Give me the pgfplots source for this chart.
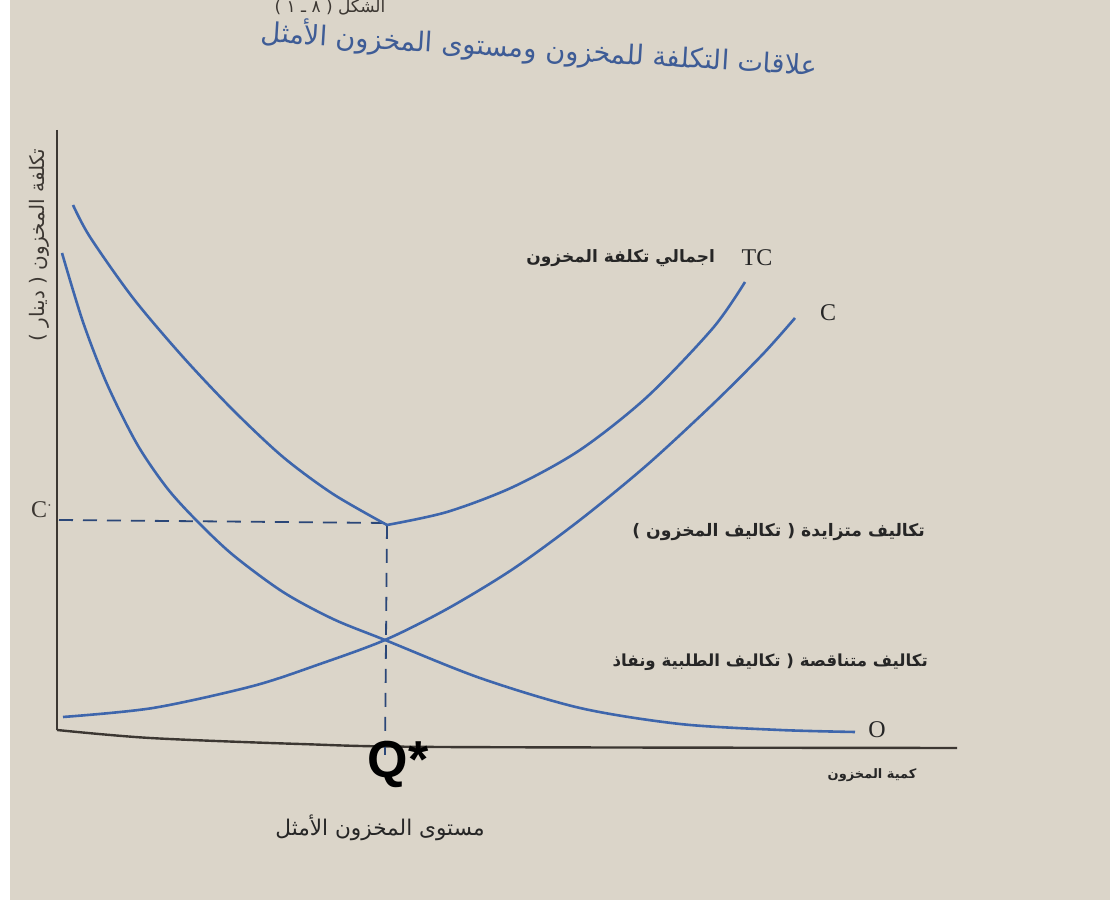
\documentclass[border=0pt]{standalone}
\usepackage{pgfplots}
\pgfplotsset{compat=1.18}
\usepackage{fontspec}
\setmainfont{Liberation Serif}
\newfontfamily\arabicfont[Script=Arabic]{DejaVu Sans}
\newfontfamily\qfont{Liberation Sans}
\TeXXeTstate=1
\definecolor{paper}{RGB}{219,213,201}
\definecolor{curve}{RGB}{62,102,172}
\definecolor{ink}{RGB}{60,55,50}
\definecolor{titleblue}{RGB}{62,92,150}
\begin{document}
\begin{tikzpicture}
% page: 1 px of the photo = 0.5pt, axis origin at photo pixel (57,742)
\path[use as bounding box, fill=white] (-28.5pt,-83.5pt) rectangle (526.5pt,371pt);
\fill[paper] (-23.5pt,-79pt) rectangle (526.5pt,371pt);
\begin{axis}[
  scale only axis,
  width=450pt, height=306pt,
  xmin=0, xmax=900, ymin=0, ymax=612,
  axis lines=none,
  clip=false,
  ticks=none,
]
  % axes as drawn in the book
  \addplot[ink, line width=1.1pt] coordinates {(0,612) (0,12)};
  \addplot[ink, line width=1.2pt, smooth] coordinates {(0,12) (93,4) (243,-2) (383,-5) (900,-6)};
  % guide lines to the optimum
  \addplot[curve!70!black, dash pattern=on 7pt off 5pt, line width=0.9pt]
    coordinates {(2,222) (330,219)};
  \addplot[curve!70!black, dash pattern=on 7pt off 5pt, line width=0.9pt]
    coordinates {(330,217) (328,-15)};
  % TC: total cost
  \addplot[curve, line width=1.3pt, smooth] coordinates {
    (16,537) (33,505) (76,444) (126,385) (176,332) (226,285) (276,248) (330,217)};
  \addplot[curve, line width=1.3pt, smooth] coordinates {
    (330,217) (390,230) (456,255) (523,292) (590,345) (656,414) (688,460)};
  % O: ordering cost (decreasing)
  \addplot[curve, line width=1.3pt, smooth] coordinates {
    (5,489) (26,420) (50,358) (80,298) (110,254) (140,221) (176,187)
    (226,150) (276,123) (328,102) (423,64) (523,34) (623,18) (723,12) (798,10)};
  % C: holding cost (increasing)
  \addplot[curve, line width=1.3pt, smooth] coordinates {
    (6,25) (96,34) (196,56) (263,78) (328,102) (390,133) (456,173)
    (523,222) (590,277) (656,338) (706,388) (738,424)};

  % texts
  \node[font=\arabicfont\fontsize{8.5}{10}\selectfont, text=ink] at (axis cs:273,735)
    {\beginR الشكل ( ٨ ـ ١ )\endR};
  \node[font=\arabicfont\fontsize{13.6}{16}\selectfont, text=titleblue, rotate=-3.5]
    at (axis cs:482,693) {\beginR علاقات التكلفة للمخزون ومستوى المخزون الأمثل\endR};
  \node[font=\arabicfont\fontsize{10}{12}\selectfont, text=ink, rotate=90]
    at (axis cs:-18,497) {\beginR تكلفة المخزون ( دينار )\endR};
  \node[font=\fontsize{12}{14}\selectfont, text=ink] at (axis cs:-15,232) {C$^{\cdot}$};
  \node[font=\fontsize{12}{14}\selectfont, text=black!85] at (axis cs:700,484) {TC};
  \node[anchor=east, font=\arabicfont\bfseries\fontsize{8.5}{10}\selectfont, text=black!85]
    at (axis cs:665,484) {\beginR اجمالي تكلفة المخزون\endR};
  \node[font=\fontsize{12}{14}\selectfont, text=black!85] at (axis cs:771,429) {C};
  \node[font=\fontsize{12}{14}\selectfont, text=black!85] at (axis cs:820,12) {O};
  \node[anchor=east, font=\arabicfont\bfseries\fontsize{8.6}{10}\selectfont, text=black!85]
    at (axis cs:875,210) {\beginR تكاليف متزايدة ( تكاليف المخزون )\endR};
  \node[anchor=east, font=\arabicfont\bfseries\fontsize{8.3}{10}\selectfont, text=black!85]
    at (axis cs:878,80) {\beginR تكاليف متناقصة ( تكاليف الطلبية ونفاذ\endR};
  \node[font=\arabicfont\bfseries\fontsize{6.5}{8}\selectfont, text=black!85]
    at (axis cs:815,-33) {\beginR كمية المخزون\endR};
  \node[font=\qfont\bfseries\fontsize{26}{28}\selectfont, text=black] at (axis cs:341,-22) {Q*};
  \node[font=\arabicfont\fontsize{10.8}{13}\selectfont, text=black!85]
    at (axis cs:323,-86) {\beginR مستوى المخزون الأمثل\endR};
\end{axis}
\end{tikzpicture}
\end{document}
